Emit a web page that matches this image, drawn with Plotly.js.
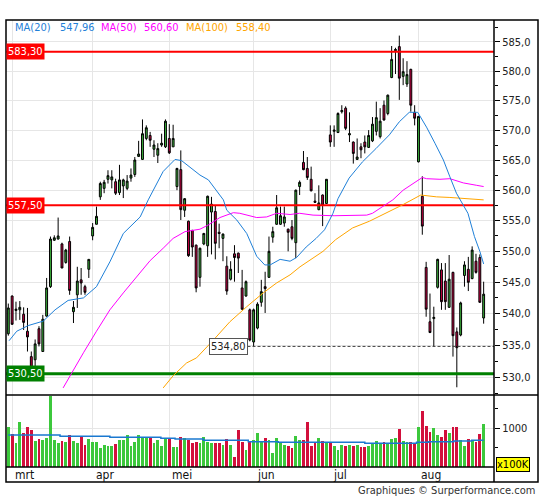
<!DOCTYPE html>
<html><head><meta charset="utf-8">
<script src="https://cdn.plot.ly/plotly-3.0.1.min.js"></script>
<style>html,body{margin:0;padding:0;background:#fff}#chart{width:545px;height:500px}</style>
</head><body><div id="chart"></div>
<script>
// ---- data ----
const openP  = [536.8,542.8,540.5,540.6,539.9,537.2,533.2,532.7,537.6,534.0,539.6,544.3,551.8,552.0,551.2,548.2,551.6,540.3,543.0,545.4,544.3,547.1,552.5,554.4,558.9,560.3,561.8,561.7,561.4,559.6,560.7,560.3,562.0,562.6,565.6,565.1,568.6,569.1,566.8,565.8,567.5,567.2,568.6,567.2,560.6,563.4,556.7,554.9,553.4,551.0,545.8,551.2,550.9,556.4,556.5,553.1,552.1,547.6,545.5,549.6,549.7,544.1,542.8,540.6,535.5,537.7,541.8,544.3,545.8,552.3,554.4,554.4,554.6,553.6,554.0,551.4,560.6,564.6,563.6,561.8,558.2,556.8,559.2,557.8,569.2,569.8,569.6,573.1,573.7,569.2,568.0,565.1,567.2,568.0,567.1,568.2,569.8,568.9,574.2,572.8,578.9,583.5,584.2,579.1,577.8,580.3,573.0,564.7,559.0,547.4,538.7,539.2,544.2,547.0,545.2,541.0,546.6,537.1,536.6,546.1,547.1,545.6,548.4,549.0,539.3];
const highP  = [541.6,542.9,541.9,542.0,541.0,540.9,534.0,535.9,538.0,539.8,545.7,552.4,552.6,555.5,551.4,550.4,552.4,542.0,547.5,547.3,544.6,548.7,554.6,557.3,561.4,561.7,563.3,563.3,561.9,564.2,561.9,562.5,563.6,565.5,568.2,571.8,570.8,569.7,568.3,567.8,569.4,571.8,571.0,570.9,563.7,566.6,558.7,555.0,553.5,551.1,550.6,553.0,559.1,558.9,557.5,554.5,552.9,549.2,548.4,551.0,549.8,547.0,545.3,540.8,540.8,541.8,545.4,546.7,552.4,554.0,559.2,557.3,557.3,553.7,555.1,560.1,561.6,566.5,565.5,563.9,559.5,560.8,559.3,561.8,570.8,570.8,573.0,574.2,574.0,573.0,568.1,568.6,567.8,569.1,570.0,572.2,574.8,573.7,575.0,576.0,584.3,584.0,586.1,582.2,581.7,580.4,574.2,572.4,562.3,548.3,543.2,541.1,548.8,548.1,548.1,549.4,546.7,537.8,541.9,548.4,549.1,550.8,549.6,549.5,545.1];
const lowP   = [536.5,538.2,538.9,539.0,537.4,534.0,531.1,531.7,534.8,534.0,539.5,544.1,551.7,551.9,547.3,548.0,543.0,538.5,540.9,543.0,543.0,545.7,551.8,554.4,558.4,559.5,561.1,560.3,559.2,559.2,558.7,560.0,561.4,562.2,565.5,565.0,568.3,567.2,565.5,564.5,567.2,567.0,566.0,567.2,560.0,555.1,555.6,549.1,549.1,543.4,544.3,551.0,549.1,549.5,548.7,550.5,548.4,543.0,545.3,545.1,546.5,540.6,542.7,535.6,534.8,537.5,541.1,540.1,545.7,551.4,554.3,554.3,554.0,550.0,551.8,548.9,559.2,563.3,561.7,559.8,557.9,556.7,554.1,557.8,567.2,567.2,569.5,572.8,570.0,568.0,564.4,565.0,565.3,566.1,567.0,568.0,569.1,568.6,571.6,572.5,578.8,579.5,575.1,577.6,577.3,573.1,570.8,564.6,552.7,539.5,536.9,534.8,544.0,540.6,540.6,540.9,533.2,528.4,536.4,544.3,543.6,545.5,546.4,541.7,538.4];
const closeP = [540.9,538.3,540.7,541.0,538.6,536.3,531.5,535.2,535.2,539.1,544.1,552.0,552.2,552.5,547.3,550.2,543.7,541.0,545.2,544.9,543.4,548.7,553.9,555.7,561.1,561.3,562.4,562.2,559.5,561.7,561.7,561.5,562.5,565.0,566.0,569.4,570.4,568.3,567.5,566.9,567.8,571.5,566.2,568.6,563.6,556.8,558.6,549.3,550.7,544.1,550.5,552.9,559.0,557.7,551.3,552.9,552.8,543.6,547.1,549.0,548.9,540.7,545.1,535.8,540.6,541.5,543.5,544.0,550.0,553.2,557.1,555.8,555.6,553.1,552.1,560.0,561.3,563.4,562.1,559.9,558.0,557.9,557.5,561.8,568.0,570.0,572.8,573.3,570.3,569.4,566.1,565.5,566.7,567.2,569.1,571.0,572.1,571.5,571.7,575.9,582.0,583.7,578.8,579.9,579.4,574.2,572.0,572.3,554.1,540.7,537.0,539.4,548.7,541.9,541.9,545.5,536.5,534.6,541.7,547.8,545.0,550.2,546.6,541.8,543.1];
const volume = [1043,853,629,1172,871,1034,957,672,724,698,759,1845,698,621,672,647,828,672,621,784,569,724,647,647,500,569,543,543,595,698,698,828,543,647,828,759,759,759,621,698,543,741,741,517,517,776,741,698,621,647,621,776,647,621,621,621,569,724,569,259,957,647,440,672,698,879,672,750,698,358,755,638,569,543,483,810,698,698,1172,543,638,741,672,638,638,552,440,569,543,569,552,569,517,517,552,595,672,612,638,586,724,759,983,672,655,638,612,1043,1448,1069,897,1000,828,776,966,888,1034,1034,698,552,724,672,655,853,1103];

const monthIdx    = [1, 22, 42, 64, 84, 107];
const monthLabels = ['mrt', 'apr', 'mei', 'jun', 'jul', 'aug'];

const ma20Idx = [0.2,2.2,5.2,9.1,12.2,15.6,19.6,23,26.5,30,34.4,36.5,40.4,43.5,45.2,50,52.2,54.3,56.1,57,59.6,62.2,64.8,66.9,68.3,70.9,73.5,75.2,77.7,80.3,82.5,84.7,86,88.9,92.4,95.9,99.4,102,104.6,106.8,109.1,111.3,113.5,115.2,116.9,119.9,121.6,123,124];
const ma20Val = [535.7,537.2,538.1,538.8,540.6,542.1,542.5,544.3,548.3,552.9,555.6,558.4,563.1,565.1,564.9,562.5,561.7,560.0,558.4,556.7,555.1,552.9,549.2,547.8,547.8,548.7,548.4,549.0,550.7,552.1,553.5,556.2,558.6,562.0,564.7,566.9,569.2,571.4,573.0,573.0,570.5,567.8,565.0,562.2,559.5,556.2,552.4,550.0,547.96];
const ma50Idx = [14.3,16.5,19.6,23,26.5,30,33.5,37,40.4,43,46.1,50,52.2,55.2,58.7,60.4,64.8,67.4,70,73.5,76,79.5,85,93.5,95,97.7,100.3,103,106.5,108,109.1,112.6,115.2,118.7,122.2,124];
const ma50Val = [528.3,530.6,533.8,537.2,540.6,543.3,545.9,548.5,550.5,552.1,553.2,553.6,554.3,555.5,556.3,556.2,555.5,555.6,556.2,556.0,556.2,555.9,555.8,555.9,556.2,557.3,558.4,560.0,561.4,562.1,561.9,561.8,561.9,561.2,560.8,560.6];
const ma100Idx = [40.4,43,46.5,49.1,53.5,57.8,62.2,66.5,70,73.5,76.1,79.5,82.1,85.4,89.8,94.2,98.5,102.9,107.6,111.7,115.2,119.6,122.2,124];
const ma100Val = [528.3,530.2,532.2,533.0,535.8,538.7,541.1,543.3,544.9,546.2,547.5,548.9,550.0,551.9,553.8,554.9,556.2,557.6,559.2,558.9,558.8,558.6,558.5,558.4];
const volMaIdx = [0,13.5,26.5,39.8,43.5,50.9,62.6,70.4,93,106.5,109.6,116.2,120.9,124];
const volMaVal = [828,793,767,741,724,690,655,638,612,638,655,672,690,690];

const maNames = ['MA(20)', 'MA(50)', 'MA(100)'];
const maLast  = ['547,96', '560,60', '558,40'];

const levels     = [583.3, 557.5, 530.5];
const levelText  = ['583,30', '557,50', '530,50'];
const lowValue = 534.8, lowText = '534,80', lowIdx = 64;

const priceTicks    = [530,535,540,545,550,555,560,565,570,575,580,585];
const priceTickText = ['530,0','535,0','540,0','545,0','550,0','555,0','560,0','565,0','570,0','575,0','580,0','585,0'];
const priceMinor    = [527.5,532.5,537.5,542.5,547.5,552.5,557.5,562.5,567.5,572.5,577.5,582.5,587.5];
const volTicks = [1000], volTickText = ['1000'], volMinor = [500, 1500];

// ---- styling ----
const FONT = 'DejaVu Sans Condensed, Liberation Sans, Arial, sans-serif';
const GREEN = '#3cb43c', RED = '#cc0044';
const C20 = '#1f80d8', C50 = '#ff00ff', C100 = '#ffa500';
const levelColor = ['#ff0000', '#ff0000', '#008000'];
const levelWidth = [2, 2, 3];
const pxX = px => (px - 6) / 488;
const pxY = py => (467 - py) / 447;

const idx = openP.map((_, i) => i);
const volColor = closeP.map((c, i) => c >= openP[i] ? '#3cc83c' : '#d2103c');

const traces = [];
levels.forEach((v, k) => traces.push({type:'scatter', mode:'lines', x:[-2, 130], y:[v, v], xaxis:'x', yaxis:'y',
  line:{color:levelColor[k], width:levelWidth[k]}, hoverinfo:'skip'}));
traces.push({type:'scatter', mode:'lines', x:[lowIdx - 1.6, 130], y:[lowValue, lowValue], xaxis:'x', yaxis:'y',
  line:{color:'#444', width:1, dash:'3px,2px'}, hoverinfo:'skip'});
traces.push({type:'scatter', mode:'lines', x:ma100Idx, y:ma100Val, line:{color:C100, width:1}, hoverinfo:'skip'});
traces.push({type:'scatter', mode:'lines', x:ma50Idx, y:ma50Val, line:{color:C50, width:1}, hoverinfo:'skip'});
traces.push({type:'scatter', mode:'lines', x:ma20Idx, y:ma20Val, line:{color:C20, width:1}, hoverinfo:'skip'});
traces.push({type:'candlestick', x:idx, open:openP, high:highP, low:lowP, close:closeP, xaxis:'x', yaxis:'y',
  increasing:{line:{color:'#000', width:1}, fillcolor:GREEN},
  decreasing:{line:{color:'#000', width:1}, fillcolor:RED},
  whiskerwidth:0, hoverinfo:'skip'});
traces.push({type:'bar', x:idx, y:volume, xaxis:'x', yaxis:'y2', width:0.75,
  marker:{color:volColor, line:{width:0}}, hoverinfo:'skip'});
traces.push({type:'scatter', mode:'lines', x:volMaIdx, y:volMaVal, xaxis:'x', yaxis:'y2',
  line:{color:'#1a78d0', width:1.5, shape:'hv'}, hoverinfo:'skip'});

const annotations = [];
const maPos = [[13, 58], [99, 142], [184, 234]];
const maCol = [C20, C50, C100];
maNames.forEach((n, k) => {
  annotations.push({xref:'paper', yref:'paper', x:pxX(maPos[k][0]), y:pxY(27), xanchor:'left', yanchor:'middle',
    text:n, showarrow:false, font:{family:FONT, size:11, color:maCol[k]}});
  annotations.push({xref:'paper', yref:'paper', x:pxX(maPos[k][1]), y:pxY(27), xanchor:'left', yanchor:'middle',
    text:maLast[k], showarrow:false, font:{family:FONT, size:11, color:maCol[k]}});
});
levels.forEach((v, k) => annotations.push({xref:'paper', yref:'y', x:0, y:Math.log10(v), xanchor:'left', yanchor:'middle',
  text:levelText[k], showarrow:false, bgcolor:levelColor[k], borderpad:1,
  font:{family:FONT, size:11, color:'#ffffff'}}));
annotations.push({xref:'x', yref:'y', x:lowIdx - 1.6, y:Math.log10(lowValue), xanchor:'right', yanchor:'middle',
  text:lowText, showarrow:false, bgcolor:'#ffffff', bordercolor:'#555', borderwidth:1, borderpad:1,
  font:{family:FONT, size:11, color:'#222'}});
monthIdx.forEach((m, k) => annotations.push({xref:'x', yref:'paper', x:m, y:pxY(474.5), xanchor:'left', yanchor:'middle',
  xshift:1, text:monthLabels[k], showarrow:false, font:{family:FONT, size:12, color:'#111'}}));
annotations.push({xref:'paper', yref:'paper', x:pxX(495.5), y:pxY(464.5), xanchor:'left', yanchor:'middle',
  text:'x100K', showarrow:false, bgcolor:'#ffff00', bordercolor:'#000', borderwidth:1, borderpad:0,
  font:{family:FONT, size:11, color:'#000'}});
annotations.push({xref:'paper', yref:'paper', x:pxX(537), y:pxY(491), xanchor:'right', yanchor:'middle',
  text:'Graphiques © Surperformance.com', showarrow:false, font:{family:FONT, size:11, color:'#333'}});

const B = {color:'#000', width:1.5};
const shapes = [
  {type:'rect', xref:'paper', yref:'paper', x0:0, x1:pxX(538), y0:pxY(482), y1:1, line:B, layer:'above'},
  {type:'line', xref:'paper', yref:'paper', x0:1, x1:1, y0:pxY(482), y1:1, line:B, layer:'above'},
  {type:'line', xref:'paper', yref:'paper', x0:0, x1:pxX(538), y0:pxY(395), y1:pxY(395), line:B, layer:'above'},
  {type:'line', xref:'paper', yref:'paper', x0:0, x1:1, y0:0, y1:0, line:B, layer:'above'}
];

const layout = {
  width:545, height:500,
  margin:{l:6, r:51, t:20, b:33, pad:0},
  paper_bgcolor:'#ffffff', plot_bgcolor:'#ffffff',
  showlegend:false,
  font:{family:FONT, size:11, color:'#222'},
  xaxis:{range:[-0.6, 126.7], rangeslider:{visible:false}, tickmode:'array', tickvals:monthIdx,
    showticklabels:false, ticks:'', showgrid:true, gridcolor:'#e6e6e6', gridwidth:1,
    zeroline:false, showline:false, anchor:'y2', fixedrange:true},
  yaxis:{type:'log', domain:[pxY(395), 1], range:[Math.log10(527.2), Math.log10(588.8)], side:'right', anchor:'x',
    tickmode:'array', tickvals:priceTicks, ticktext:priceTickText, ticks:'outside', ticklen:5, tickcolor:'#000',
    tickfont:{family:FONT, size:11, color:'#222'},
    showgrid:true, gridcolor:'#e6e6e6', zeroline:false, showline:false,
    minor:{tickmode:'array', tickvals:priceMinor, ticks:'outside', ticklen:3, tickcolor:'#000', showgrid:false}},
  yaxis2:{domain:[0, pxY(395)], range:[0, 1860], side:'right', anchor:'x',
    tickmode:'array', tickvals:volTicks, ticktext:volTickText, ticks:'outside', ticklen:5, tickcolor:'#000',
    tickfont:{family:FONT, size:11, color:'#222'},
    showgrid:true, gridcolor:'#e6e6e6', zeroline:false, showline:false,
    minor:{tickmode:'array', tickvals:volMinor, ticks:'outside', ticklen:3, tickcolor:'#000', showgrid:false}},
  bargap:0,
  shapes:shapes,
  annotations:annotations
};

Plotly.newPlot('chart', traces, layout, {staticPlot:true, displayModeBar:false});
</script>
</body></html>
